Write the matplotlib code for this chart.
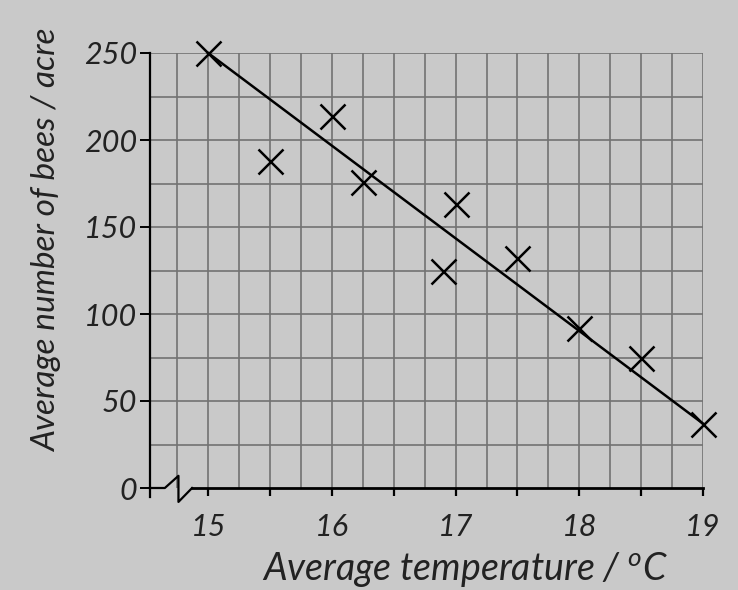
import numpy as np
import matplotlib
matplotlib.use("Agg")
import matplotlib.pyplot as plt

# readings
temps = [15, 15.5, 16, 16.25, 16.9, 17, 17.5, 18, 18.5, 19]
bees = [250, 188, 214, 176, 125, 163, 132, 92, 75, 37]

# line of best fit (drawn end to end)
fit_x = [15, 19]
fit_y = [250, 37]

x_ticks = [15, 16, 17, 18, 19]
y_ticks = [0, 50, 100, 150, 200, 250]

plt.rcParams['font.family'] = ['Lato', 'DejaVu Sans']
paper = '#c9c9c9'
grid_col = '#727272'

fig = plt.figure(figsize=(7.38, 5.9), dpi=100, facecolor=paper)
ax = fig.add_axes([150 / 738, 1 - 488 / 590, (703 - 150) / 738, (488 - 53) / 590])
ax.set_facecolor(paper)
ax.set_xlim(14.53, 19)
ax.set_ylim(0, 250)

# graph paper grid
ax.vlines(np.arange(14.75, 19.01, 0.25), 0, 250, color=grid_col, lw=1.2, zorder=1)
ax.hlines(np.arange(25, 251, 25), 14.53, 19, color=grid_col, lw=1.2, zorder=1)

# axes
for s in ['top', 'right']:
    ax.spines[s].set_visible(False)
ax.spines['left'].set_linewidth(1.6)
ax.spines['bottom'].set_linewidth(2.0)
ax.spines['bottom'].set_bounds(14.87, 19)
# broken x axis
ax.plot([14.53, 14.65, 14.76, 14.76, 14.87], [0, 0, 7, -8, 0],
        color='black', lw=1.6, clip_on=False, zorder=3)
ax.plot([14.53, 14.53], [0, -5], color='black', lw=1.6, clip_on=False)

ax.set_xticks(x_ticks)
ax.set_xticks(np.arange(15.5, 19, 1.0), minor=True)
ax.set_yticks(y_ticks)
ax.tick_params(axis='x', which='both', direction='out', length=6, width=1.6,
               labelsize=22, pad=12)
ax.tick_params(axis='y', direction='out', length=7, width=1.4, labelsize=22, pad=2)
for lab in ax.get_xticklabels() + ax.get_yticklabels():
    lab.set_style('italic')
    lab.set_color('#222222')

ax.plot(fit_x, fit_y, color='black', lw=1.8, zorder=4, clip_on=False)
ax.plot(temps, bees, linestyle='none', marker='x', markersize=18,
        markeredgewidth=1.8, color='black', zorder=5, clip_on=False)

ax.set_xlabel('Average temperature / $^{\\mathregular{o}}$C', fontsize=27,
              style='italic', color='#222222', labelpad=0)
ax.xaxis.set_label_coords((465 - 150) / 553, -(550 - 488) / 435)
ax.set_ylabel('Average number of bees / acre', fontsize=24, style='italic',
              color='#222222')
ax.yaxis.set_label_coords(-(150 - 62) / 553, (488 - 240) / 435)

fig.savefig('out.png', dpi=100, facecolor=paper)
